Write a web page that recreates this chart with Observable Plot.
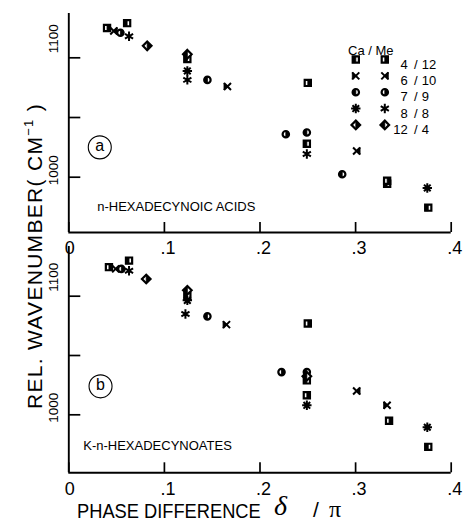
<!DOCTYPE html>
<html><head><meta charset="utf-8">
<script src="https://cdn.jsdelivr.net/npm/d3@7"></script>
<script src="https://cdn.jsdelivr.net/npm/@observablehq/plot@0.6"></script>
<style>
body{margin:0;background:#fff;}
#chart{position:relative;width:465px;height:522px;overflow:hidden;font-family:"Liberation Sans",Arial,sans-serif;color:#000;}
#chart svg{position:absolute;left:0;background:transparent;overflow:visible;}
.ttl{position:absolute;white-space:nowrap;line-height:1;}
</style></head><body><div id="chart"></div>
<script>
// ---- data ----
const xTicks = [0, 0.1, 0.2, 0.3, 0.4];
const yTicks = [1000, 1050, 1100];
const yLabels = [1100, 1000];
const yLabelShiftPx = [-19, -7];   // the printed labels sit slightly above their ticks
const compositions = ["4 / 12", "6 / 10", "7 / 9", "8 / 8", "12 / 4"];
const kinds = ["Ca", "Me"];
// [composition, kind, phase difference δ/π, rel. wavenumber (cm-1)]
const pointsA = [
  ["4 / 12","Me",0.040,1125],["6 / 10","Me",0.047,1122.5],["7 / 9","Me",0.054,1121],
  ["8 / 8","Me",0.063,1118],["4 / 12","Ca",0.061,1129],["12 / 4","Ca",0.082,1110],
  ["12 / 4","Me",0.124,1103],["4 / 12","Ca",0.124,1099],["8 / 8","Ca",0.124,1089],
  ["8 / 8","Me",0.124,1081.5],["7 / 9","Ca",0.145,1081.5],["6 / 10","Ca",0.166,1076],
  ["4 / 12","Me",0.250,1079],["7 / 9","Me",0.227,1036],["7 / 9","Ca",0.249,1037.5],
  ["4 / 12","Ca",0.249,1028],["8 / 8","Me",0.249,1019.5],["6 / 10","Me",0.301,1022],
  ["7 / 9","Ca",0.286,1002.5],["4 / 12","Me",0.333,997],["4 / 12","Ca",0.333,994.5],
  ["8 / 8","Ca",0.375,991],["4 / 12","Ca",0.376,974.5]
];
const pointsB = [
  ["4 / 12","Me",0.042,1124.5],["6 / 10","Me",0.049,1123],["7 / 9","Me",0.055,1123],
  ["8 / 8","Me",0.063,1121.5],["4 / 12","Ca",0.063,1130],["12 / 4","Ca",0.081,1114.5],
  ["12 / 4","Me",0.124,1105],["4 / 12","Ca",0.124,1100],["8 / 8","Ca",0.124,1096.5],
  ["8 / 8","Me",0.122,1085],["7 / 9","Ca",0.145,1083],["6 / 10","Ca",0.165,1076],
  ["4 / 12","Me",0.250,1077],["7 / 9","Me",0.2225,1036],["7 / 9","Ca",0.249,1036],
  ["12 / 4","Me",0.249,1032.5],["4 / 12","Ca",0.249,1029],["4 / 12","Me",0.249,1016.5],
  ["8 / 8","Ca",0.249,1008],["6 / 10","Me",0.301,1020],["6 / 10","Ca",0.333,1008],
  ["4 / 12","Me",0.335,995],["8 / 8","Ca",0.375,989.5],["4 / 12","Ca",0.376,973]
];
const panelTitlesA = [{text:"n-HEXADECYNOIC ACIDS", x:0.0297, y:975}];
const panelTitlesB = [{text:"K-n-HEXADECYNOATES", x:0.0151, y:974}];
const panelLetterA = [{text:"a", x:0.0324, y:1025}];
const panelLetterB = [{text:"b", x:0.0332, y:1024}];

// ---- symbols ----
const R = s => Math.sqrt(s / Math.PI);
const S = {
  sq:  {draw(c,s){const h=R(s); c.rect(-h,-h,2*h,2*h);}},
  sqL: {draw(c,s){const h=R(s); c.rect(-h,-h,h,2*h);}},
  sqR: {draw(c,s){const h=R(s); c.rect(0,-h,h,2*h);}},
  ci:  {draw(c,s){const h=R(s); c.moveTo(h,0); c.arc(0,0,h,0,2*Math.PI);}},
  ciL: {draw(c,s){const h=R(s); c.moveTo(0,-h); c.arc(0,0,h,-Math.PI/2,Math.PI/2,true); c.closePath();}},
  ciR: {draw(c,s){const h=R(s); c.moveTo(0,-h); c.arc(0,0,h,-Math.PI/2,Math.PI/2,false); c.closePath();}},
  di:  {draw(c,s){const h=R(s); c.moveTo(0,-h); c.lineTo(h,0); c.lineTo(0,h); c.lineTo(-h,0); c.closePath();}},
  diL: {draw(c,s){const h=R(s); c.moveTo(0,-h); c.lineTo(-h,0); c.lineTo(0,h); c.closePath();}},
  diR: {draw(c,s){const h=R(s); c.moveTo(0,-h); c.lineTo(h,0); c.lineTo(0,h); c.closePath();}},
  xx:  {draw(c,s){const h=R(s); c.moveTo(-h,-h); c.lineTo(h,h); c.moveTo(-h,h); c.lineTo(h,-h);}},
  xxL: {draw(c,s){const h=R(s); c.moveTo(-h,-h); c.lineTo(0,0); c.lineTo(-h,h); c.closePath();}},
  xxR: {draw(c,s){const h=R(s); c.moveTo(h,-h); c.lineTo(0,0); c.lineTo(h,h); c.closePath();}},
  st8: {draw(c,s){const h=R(s); for(let k=0;k<4;k++){const a=k*Math.PI/4; c.moveTo(-h*Math.cos(a),-h*Math.sin(a)); c.lineTo(h*Math.cos(a),h*Math.sin(a));}}},
  st6: {draw(c,s){const h=R(s); for(let k=0;k<3;k++){const a=Math.PI/2+k*Math.PI/3; c.moveTo(-h*Math.cos(a),-h*Math.sin(a)); c.lineTo(h*Math.cos(a),h*Math.sin(a));}}}
};
const look = {
  "4 / 12": {r:3.1, Ca:[S.sq,S.sqL], Me:[S.sq,S.sqR]},
  "6 / 10": {r:3.5, line:true, Ca:[S.xx,S.xxL], Me:[S.xx,S.xxR]},
  "7 / 9":  {r:3.2, Ca:[S.ci,S.ciL], Me:[S.ci,S.ciR]},
  "8 / 8":  {r:4.7, line:true, Ca:[S.st8,null], Me:[S.st6,null]},
  "12 / 4": {r:4.3, Ca:[S.di,S.diR], Me:[S.di,S.diL]}
};
function symbolMarks(data, comp, kind, pos) {
  const L = look[comp], [outline, half] = L[kind];
  const m = [Plot.dot(data, {...pos, symbol: outline, r: L.r, fill: L.line ? "none" : "white", stroke: "black", strokeWidth: L.line ? 2 : 2.2})];
  if (half) m.push(Plot.dot(data, {...pos, symbol: half, r: L.r, fill: "black", stroke: "black", strokeWidth: 0.8}));
  return m;
}
const fmtX = d => d === 0 ? "0" : d3.format(".1f")(d).replace(/^0/, "");

function panel(points, titles, letters, yDomain, opts) {
  const fh = opts.height - opts.marginTop - opts.marginBottom;
  const fw = 465 - 68.3 - 14.3;
  const unitsPerPx = (yDomain[1] - yDomain[0]) / fh;
  const marks = [
    Plot.ruleX([0], {strokeWidth: 1.9}),
    Plot.ruleY([yDomain[0]], {strokeWidth: 1.9}),
    Plot.tickX(xTicks, {x: d => d, insetTop: fh - 10, strokeWidth: 1.7}),
    Plot.tickY(yTicks, {y: d => d, insetRight: fw - 12, strokeWidth: 1.7}),
    Plot.text(xTicks, {x: d => d, frameAnchor: "bottom", dy: 9, lineAnchor: "top", textAnchor: "start", dx: -4, text: fmtX, fontSize: 18}),
    Plot.text(yLabels, {y: (d, i) => d - yLabelShiftPx[i] * unitsPerPx, frameAnchor: "left", text: d => String(d), rotate: -90, dx: -15, fontSize: 13.5, textAnchor: "middle", lineAnchor: "middle"}),
    Plot.dot(letters, {x: "x", y: "y", r: 11.5, stroke: "black", fill: "none", strokeWidth: 1.1}),
    Plot.text(letters, {x: "x", y: "y", text: "text", fontSize: 16, dy: -1}),
    Plot.text(titles, {x: "x", y: "y", text: "text", textAnchor: "start", fontSize: 13, lineAnchor: "middle"})
  ];
  const rows = points.map(([comp, kind, x, y]) => ({comp, kind, x, y}));
  for (const comp of compositions) for (const kind of kinds) {
    const sub = rows.filter(d => d.comp === comp && d.kind === kind);
    if (sub.length) marks.push(...symbolMarks(sub, comp, kind, {x: "x", y: "y"}));
  }
  if (opts.legend) {
    marks.push(Plot.text(["Ca / Me"], {frameAnchor: "top-left", dx: 302, dy: 32, text: d => d, fontSize: 13, textAnchor: "middle"}));
    compositions.forEach((comp, i) => {
      const dy = 46 + i * 16.35;
      kinds.forEach((kind, j) => marks.push(...symbolMarks([comp], comp, kind, {frameAnchor: "top-left", dx: j ? 316 : 287, dy})));
      const [num, den] = comp.split(" / ");
      marks.push(Plot.text([num], {frameAnchor: "top-left", dx: 339, dy, text: d => d, textAnchor: "end", fontSize: 13}));
      marks.push(Plot.text(["/"], {frameAnchor: "top-left", dx: 347, dy, text: d => d, textAnchor: "middle", fontSize: 13}));
      marks.push(Plot.text([den], {frameAnchor: "top-left", dx: 353, dy, text: d => d, textAnchor: "start", fontSize: 13}));
    });
  }
  return Plot.plot({
    width: 465, height: opts.height,
    marginLeft: 68.3, marginRight: 14.3, marginTop: opts.marginTop, marginBottom: opts.marginBottom,
    x: {domain: [0, 0.4], axis: null},
    y: {domain: yDomain, axis: null},
    style: {fontFamily: "Liberation Sans, Arial, sans-serif", background: "transparent", color: "black"},
    marks
  });
}

const root = document.getElementById("chart");
const plotA = panel(pointsA, panelTitlesA, panelLetterA, [953.7, 1137.1], {height: 262, marginTop: 13, marginBottom: 30, legend: true});
plotA.style.top = "0px";
const plotB = panel(pointsB, panelTitlesB, panelLetterB, [951.1, 1141.9], {height: 282, marginTop: 6, marginBottom: 49.7});
plotB.style.top = "240px";
root.appendChild(plotB);
root.appendChild(plotA);

// titles
const yt = document.createElement("div");
yt.className = "ttl";
yt.innerHTML = 'REL. WAVENUMBER( CM<sup style="font-size:13px;vertical-align:9px">−1</sup> )';
Object.assign(yt.style, {left: "33px", top: "256px", fontSize: "21px", letterSpacing: "1.3px", transform: "translate(-50%,-50%) rotate(-90deg)"});
root.appendChild(yt);
const xt = document.createElement("div");
xt.className = "ttl"; xt.textContent = "PHASE DIFFERENCE";
Object.assign(xt.style, {left: "77px", top: "500px", fontSize: "21px", transform: "scaleX(0.87)", transformOrigin: "left top"});
root.appendChild(xt);
const dl = document.createElement("div");
dl.className = "ttl"; dl.textContent = "δ";
Object.assign(dl.style, {left: "274px", top: "492px", fontSize: "28px", fontFamily: "'Liberation Serif', serif", fontStyle: "italic"});
root.appendChild(dl);
const sl = document.createElement("div");
sl.className = "ttl"; sl.textContent = "/";
Object.assign(sl.style, {left: "313px", top: "499px", fontSize: "21px"});
root.appendChild(sl);
const pi = document.createElement("div");
pi.className = "ttl"; pi.textContent = "π";
Object.assign(pi.style, {left: "329px", top: "497px", fontSize: "24px", fontFamily: "'Liberation Serif', serif"});
root.appendChild(pi);
</script></body></html>
